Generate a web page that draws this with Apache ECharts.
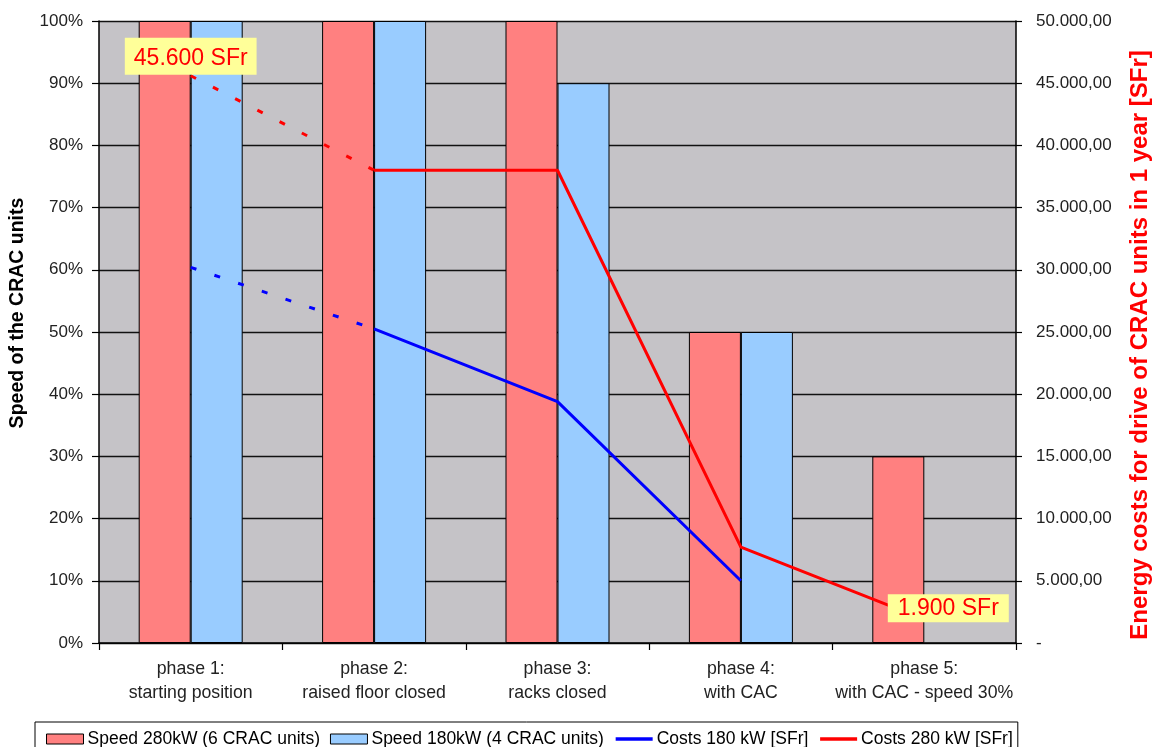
<!DOCTYPE html>
<html>
<head>
<meta charset="utf-8">
<script src="https://cdn.jsdelivr.net/npm/echarts@6/dist/echarts.min.js"></script>
<style>
  html, body { margin: 0; padding: 0; background: #ffffff; }
  #chart { width: 1161px; height: 747px; }
</style>
</head>
<body>
<div id="chart"></div>
<script>
// Phases of the airflow optimisation
const categories = [
  'phase 1:\nstarting position',
  'phase 2:\nraised floor closed',
  'phase 3:\nracks closed',
  'phase 4:\nwith CAC',
  'phase 5:\nwith CAC - speed 30%'
];

// Fan speed of the CRAC units (%)
const speed280 = [100, 100, 100, 50, 30];
const speed180 = [100, 100, 90, 50, null];

// Yearly energy cost of the CRAC drives (SFr)
const costs180 = [30200, 25250, 19400, 5000, null];
const costs280 = [45600, 38000, 38000, 7700, 1900];

// The first segment (phase 1 -> phase 2) is an estimate, drawn dashed
const dashedEnd = 1;

// Points whose cost is written next to them
const labelled280 = [0, 4];

const seriesNames = [
  'Speed 280kW (6 CRAC units)',
  'Speed 180kW (4 CRAC units)',
  'Costs 180 kW [SFr]',
  'Costs 280 kW [SFr]'
];

const FONT = "'Liberation Sans', Arial, sans-serif";

function fmtThousands(v) {
  return String(Math.round(v)).replace(/\B(?=(\d{3})+(?!\d))/g, '.');
}

function solidPart(arr) {
  return arr.map((v, i) => (i >= dashedEnd ? v : null));
}
function dashedPart(arr) {
  return arr.map((v, i) => (i <= dashedEnd ? v : null));
}

const labelBox = {
  show: true,
  formatter: p => fmtThousands(p.value) + ' SFr',
  color: '#ff0000',
  fontFamily: FONT,
  fontSize: 23,
  backgroundColor: '#ffff99'
};

function withLabels(arr, idxs, solid) {
  return arr.map((v, i) => {
    if (v == null || idxs.indexOf(i) < 0) return v;
    // each label sits on exactly one of the two parts
    const onThisPart = solid ? i > dashedEnd : i < dashedEnd;
    if (!onThisPart) return v;
    const label = Object.assign({}, labelBox);
    if (i === 0) {
      label.position = 'top';
      label.distance = 1;
      label.padding = [9, 9, 5, 9];
    } else {
      label.position = 'inside';
      label.offset = [24, -11];
      label.padding = [3, 10, 2, 10];
    }
    // a hidden symbol carries the label
    return { value: v, symbol: 'circle', symbolSize: 0, label: label };
  });
}

function costLine(name, color, data, dashed) {
  return {
    name: name,
    type: 'line',
    yAxisIndex: 1,
    data: data,
    connectNulls: false,
    symbol: 'none',
    showSymbol: true,
    z: dashed ? 4 : 5,
    lineStyle: {
      color: color,
      width: 3,
      type: dashed ? [6, 19] : 'solid',
      cap: 'butt'
    },
    itemStyle: { color: color },
    emphasis: { disabled: true },
    silent: true
  };
}

// legend entries: square boxes for the bars, plain strokes for the costs
const legendData = seriesNames.map((n, i) =>
  i < 2
    ? { name: n, icon: 'rect', itemStyle: { borderWidth: 1, borderColor: '#000' } }
    : { name: n, itemStyle: { opacity: 0 }, lineStyle: { width: 3.5, type: 'solid' } }
);

const chart = echarts.init(document.getElementById('chart'), null, { renderer: 'canvas' });

chart.setOption({
  animation: false,
  backgroundColor: '#ffffff',
  textStyle: { fontFamily: FONT },
  grid: {
    left: 99,
    right: 145,
    top: 21,
    bottom: 104,
    show: true,
    backgroundColor: '#c5c3c7',
    borderWidth: 0
  },
  legend: {
    data: legendData,
    left: 35,
    top: 722,
    orient: 'horizontal',
    itemWidth: 37,
    itemHeight: 10,
    itemGap: 10,
    padding: [8, 5, 12, 11],
    borderColor: '#000',
    borderWidth: 1,
    selectedMode: false,
    textStyle: { fontFamily: FONT, fontSize: 17.5, color: '#000', padding: [0, 0, 0, -1] }
  },
  xAxis: {
    type: 'category',
    data: categories,
    axisLine: { show: true, onZero: false, lineStyle: { color: '#000', width: 1.5 } },
    axisTick: { show: true, length: 7, lineStyle: { color: '#000', width: 1.2 } },
    axisLabel: {
      interval: 0,
      margin: 14,
      fontFamily: FONT,
      fontSize: 17.7,
      lineHeight: 24,
      color: '#222'
    },
    splitLine: { show: false }
  },
  yAxis: [
    {
      type: 'value',
      min: 0,
      max: 100,
      interval: 10,
      position: 'left',
      name: 'Speed of the CRAC units',
      nameLocation: 'middle',
      nameGap: 71,
      nameTextStyle: {
        fontFamily: FONT,
        fontSize: 19.5,
        fontWeight: 'bold',
        color: '#000',
        padding: [0, 0, 0, 38]
      },
      axisLine: { show: true, lineStyle: { color: '#000', width: 1.5 } },
      axisTick: { show: true, length: 7, lineStyle: { color: '#000', width: 1.2 } },
      axisLabel: {
        formatter: '{value}%',
        margin: 16,
        fontFamily: FONT,
        fontSize: 17,
        color: '#222'
      },
      splitLine: { show: true, lineStyle: { color: '#111', width: 1.3 } }
    },
    {
      type: 'value',
      min: 0,
      max: 50000,
      interval: 5000,
      position: 'right',
      name: 'Energy costs for drive of CRAC units in 1 year [SFr]',
      nameLocation: 'middle',
      nameGap: 112,
      nameRotate: 90,
      nameTextStyle: {
        fontFamily: FONT,
        fontSize: 24,
        fontWeight: 'bold',
        color: '#ff0000',
        padding: [0, 26, 0, 0]
      },
      axisLine: { show: true, lineStyle: { color: '#000', width: 1.5 } },
      axisTick: { show: true, length: 6, lineStyle: { color: '#000', width: 1.2 } },
      axisLabel: {
        formatter: v => (v === 0 ? '-' : fmtThousands(v) + ',00'),
        margin: 20,
        fontFamily: FONT,
        fontSize: 17,
        color: '#222'
      },
      splitLine: { show: false }
    }
  ],
  series: [
    {
      name: seriesNames[0],
      type: 'bar',
      data: speed280,
      barWidth: 52,
      barGap: '0%',
      itemStyle: { color: '#ff8080', borderColor: '#000', borderWidth: 1 },
      emphasis: { disabled: true },
      silent: true,
      z: 2
    },
    {
      name: seriesNames[1],
      type: 'bar',
      data: speed180,
      barWidth: 52,
      barGap: '0%',
      itemStyle: { color: '#99ccff', borderColor: '#000', borderWidth: 1 },
      emphasis: { disabled: true },
      silent: true,
      z: 2
    },
    costLine(seriesNames[2], '#0000ff', solidPart(costs180), false),
    costLine(seriesNames[3], '#ff0000', withLabels(solidPart(costs280), labelled280, true), false),
    costLine(seriesNames[2], '#0000ff', dashedPart(costs180), true),
    costLine(seriesNames[3], '#ff0000', withLabels(dashedPart(costs280), labelled280, false), true)
  ]
});
</script>
</body>
</html>
